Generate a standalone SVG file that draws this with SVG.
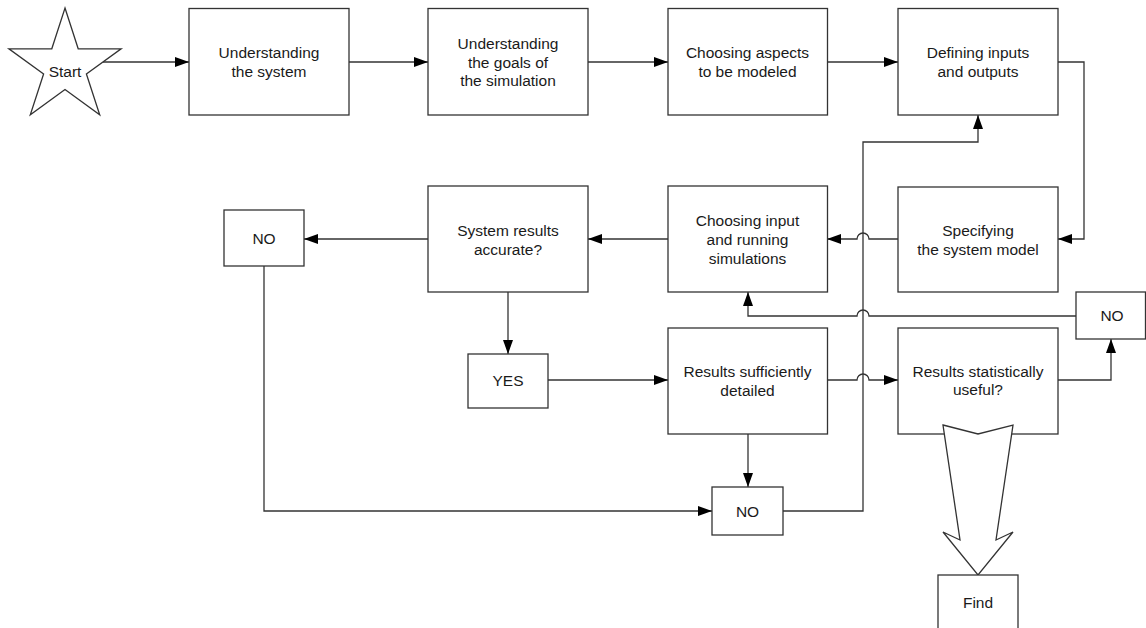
<svg xmlns="http://www.w3.org/2000/svg" width="1146" height="628" viewBox="0 0 1146 628">
<style>
.box{fill:#fff;stroke:#333;stroke-width:1.3}
.lbl{font-family:"Liberation Sans",Arial,sans-serif;font-size:15.5px;fill:#1a1a1a;text-anchor:middle}
.cn{fill:none;stroke:#333;stroke-width:1.3}
.arr{marker-end:url(#ah)}
</style>
<defs>
<marker id="ah" markerUnits="userSpaceOnUse" markerWidth="15" markerHeight="11" refX="14" refY="5" orient="auto">
<path d="M0,0 L14,5 L0,10 z" fill="#000"/>
</marker>
</defs>
<rect width="1146" height="628" fill="#fff"/>
<g id="connectors">
<path class="cn arr" d="M103,62 H189"/>
<path class="cn arr" d="M349,62 H428"/>
<path class="cn arr" d="M588,62 H668"/>
<path class="cn arr" d="M827,62 H898"/>
<path class="cn arr" d="M1058,62 H1084 V239 H1058"/>
<path class="cn arr" d="M898,239 H869 A6,6 0 0 0 857,239 H827"/>
<path class="cn arr" d="M668,239 H588"/>
<path class="cn arr" d="M428,239 H304"/>
<path class="cn arr" d="M508,292 V354"/>
<path class="cn arr" d="M548,380 H668"/>
<path class="cn arr" d="M264,266 V511 H712"/>
<path class="cn arr" d="M748,434 V487"/>
<path class="cn arr" d="M783,511 H863 V142 H978 V115"/>
<path class="cn arr" d="M827,380 H857 A6,6 0 0 1 869,380 H898"/>
<path class="cn arr" d="M1058,380 H1111 V339"/>
<path class="cn arr" d="M1076,316 H869 A6,6 0 0 0 857,316 H748 V292"/>
</g>
<g id="start">
<polygon class="box" points="65,8 78.2,48.8 121.1,48.8 86.4,74 99.7,114.8 65,89.5 30.3,114.8 43.6,74 8.9,48.8 51.8,48.8"/>
<text class="lbl" x="65" y="77">Start</text>
</g>
<g id="n1">
<rect class="box" x="189" y="8.5" width="160" height="106.5"/>
<text class="lbl" x="269" y="57.5">Understanding</text>
<text class="lbl" x="269" y="76.5">the system</text>
</g>
<g id="n2">
<rect class="box" x="428" y="8.5" width="160" height="106.5"/>
<text class="lbl" x="508" y="48.5">Understanding</text>
<text class="lbl" x="508" y="67.5">the goals of</text>
<text class="lbl" x="508" y="86">the simulation</text>
</g>
<g id="n3">
<rect class="box" x="668" y="8.5" width="159.5" height="106.5"/>
<text class="lbl" x="747.5" y="57.5">Choosing aspects</text>
<text class="lbl" x="747.5" y="76.5">to be modeled</text>
</g>
<g id="n4">
<rect class="box" x="898" y="8.5" width="160" height="106.5"/>
<text class="lbl" x="978" y="57.5">Defining inputs</text>
<text class="lbl" x="978" y="76.5">and outputs</text>
</g>
<g id="n5">
<rect class="box" x="898" y="187" width="160" height="105"/>
<text class="lbl" x="978" y="235.5">Specifying</text>
<text class="lbl" x="978" y="254.5">the system model</text>
</g>
<g id="n6">
<rect class="box" x="668" y="186" width="159.5" height="106"/>
<text class="lbl" x="747.5" y="225.5">Choosing input</text>
<text class="lbl" x="747.5" y="244.5">and running</text>
<text class="lbl" x="747.5" y="263.5">simulations</text>
</g>
<g id="n7">
<rect class="box" x="428" y="186" width="160" height="106"/>
<text class="lbl" x="508" y="235.5">System results</text>
<text class="lbl" x="508" y="254.5">accurate?</text>
</g>
<g id="no1">
<rect class="box" x="224" y="210" width="80" height="56"/>
<text class="lbl" x="264" y="243.5">NO</text>
</g>
<g id="yes">
<rect class="box" x="468" y="354" width="80" height="54"/>
<text class="lbl" x="508" y="385.5">YES</text>
</g>
<g id="n8">
<rect class="box" x="668" y="328" width="159.5" height="106"/>
<text class="lbl" x="747.5" y="376.5">Results sufficiently</text>
<text class="lbl" x="747.5" y="395.5">detailed</text>
</g>
<g id="n9">
<rect class="box" x="898" y="328" width="160" height="106"/>
<text class="lbl" x="978" y="376.5">Results statistically</text>
<text class="lbl" x="978" y="395">useful?</text>
</g>
<g id="no2">
<rect class="box" x="712" y="487" width="71" height="48"/>
<text class="lbl" x="747.5" y="516.5">NO</text>
</g>
<g id="no3">
<rect class="box" x="1076" y="292" width="69.5" height="47"/>
<text class="lbl" x="1112" y="320.5">NO</text>
</g>
<g id="bigarrow">
<polygon class="box" points="943,425 978,434 1013,425 996,540 1013,532 978,575 943,532 960,540"/>
</g>
<g id="find">
<rect class="box" x="938" y="575" width="80" height="65"/>
<text class="lbl" x="978" y="607.5">Find</text>
</g>
</svg>
